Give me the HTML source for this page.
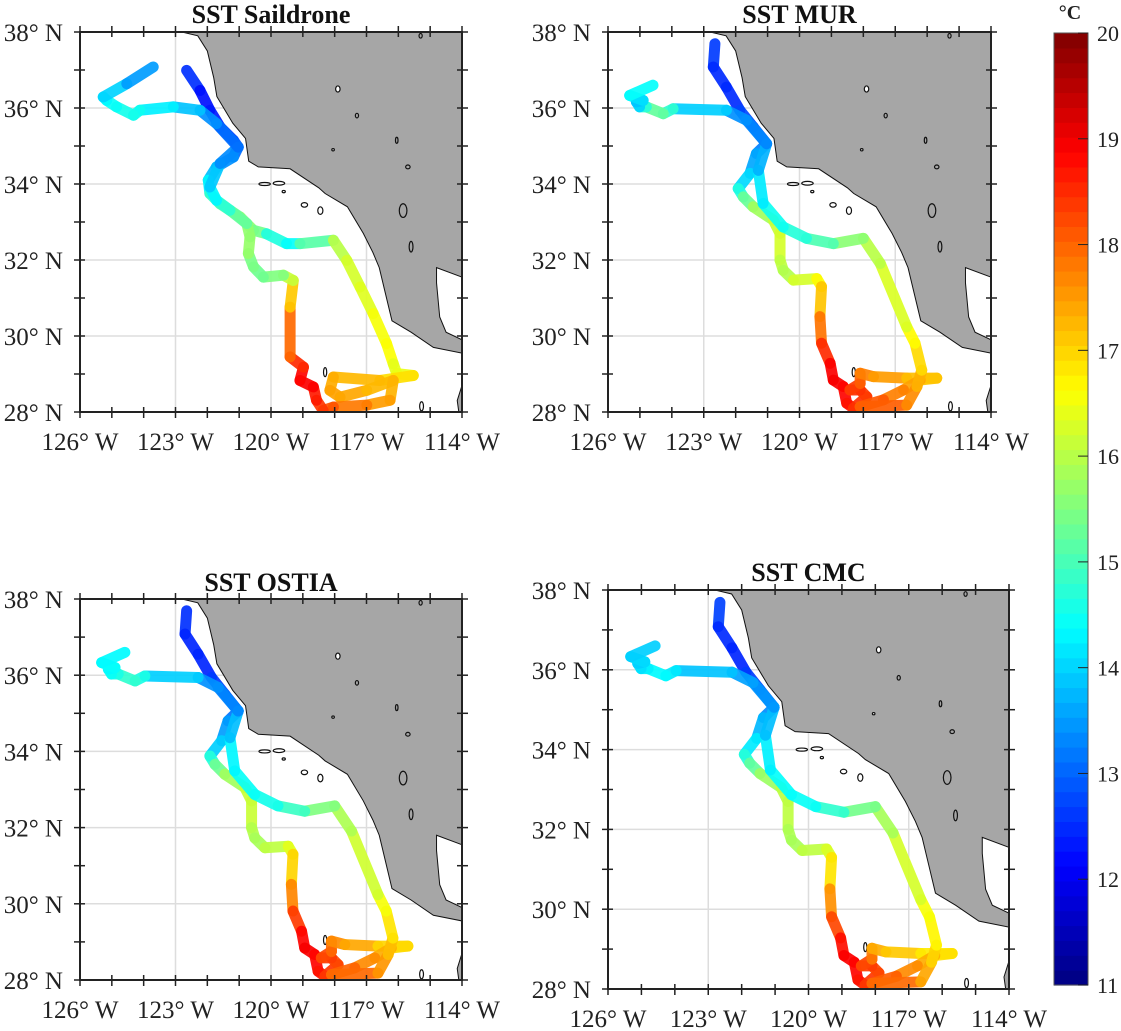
<!DOCTYPE html>
<html><head><meta charset="utf-8">
<style>
html,body{margin:0;padding:0;background:#fff;}
svg{display:block;font-family:"Liberation Serif",serif;}
</style></head>
<body>
<svg id="fig" width="1121" height="1031" viewBox="0 0 1121 1031" xmlns="http://www.w3.org/2000/svg"></svg>
<script>
// ---- data ----
const lonTicks = [-126, -123, -120, -117, -114];
const latTicks = [28, 30, 32, 34, 36, 38];
const cbTicks = [11, 12, 13, 14, 15, 16, 17, 18, 19, 20];
const panelTitles = ["SST Saildrone", "SST MUR", "SST OSTIA", "SST CMC"];

const droneLon = [-122.65,-122.23,-121.92,-121.60,-121.18,-121.03,-121.18,-121.71,-121.97,-121.92,-121.60,-120.97,-120.55,-120.14,-119.51,-119.09,-118.04,-117.62,-117.20,-116.79,-116.37,-116.16,-116.05,-115.53,-116.58,-118.04,-118.15,-117.83,-116.99,-116.16,-116.26,-116.99,-118.04,-118.36,-118.57,-118.67,-119.09,-118.98,-119.40,-119.40,-119.30,-119.61,-120.24,-120.55,-120.71,-120.66,-120.76,-121.29,-121.71,-121.92,-121.60,-121.03,-121.71,-122.23,-123.07,-124.12,-124.32,-124.85,-125.16,-125.27,-124.53,-123.70];
const droneLat = [36.99,36.46,35.94,35.50,35.15,34.97,34.71,34.45,34.10,33.75,33.48,33.13,32.78,32.69,32.43,32.43,32.52,31.99,31.29,30.59,29.80,29.27,29.01,28.96,28.83,28.92,28.57,28.39,28.57,28.83,28.31,28.18,28.13,28.04,28.31,28.66,28.83,29.18,29.45,30.76,31.46,31.60,31.55,31.82,32.17,32.61,32.96,33.31,33.57,33.92,34.54,34.97,35.59,35.94,36.03,35.94,35.81,36.03,36.20,36.29,36.64,37.08];
const droneSST = [12.8,12.3,12.2,12.5,12.8,12.9,13.2,13.6,14.0,14.6,15.1,15.4,15.8,15.0,14.3,14.5,15.8,16.2,16.3,16.4,16.7,16.5,16.3,16.6,17.2,17.3,17.4,17.5,17.3,17.2,17.4,17.6,18.0,18.3,18.5,18.8,19.0,18.7,18.3,17.6,16.6,15.6,15.4,15.3,15.6,15.8,15.5,15.0,14.5,14.1,13.7,13.0,13.2,13.6,14.1,14.4,14.6,14.5,14.4,14.3,13.7,13.3];

const modelLon = [-122.65,-122.70,-122.29,-121.87,-121.45,-121.03,-121.35,-121.55,-121.92,-121.76,-121.45,-120.82,-120.61,-120.61,-120.51,-120.19,-119.46,-119.31,-119.36,-119.31,-119.04,-118.94,-118.63,-118.52,-118.31,-117.89,-118.10,-118.42,-118.10,-118.10,-117.68,-116.64,-115.70,-116.22,-116.74,-117.37,-118.10,-116.64,-116.32,-116.17,-116.38,-116.64,-117.47,-118.00,-118.94,-119.78,-120.51,-121.14,-121.29,-121.03,-121.66,-122.29,-123.96,-124.27,-124.80,-125.01,-125.11,-124.90,-125.32,-124.59];
const modelLat = [37.69,37.08,36.55,35.94,35.50,35.06,34.80,34.28,33.88,33.66,33.40,33.05,32.70,32.00,31.73,31.47,31.51,31.30,30.51,29.81,29.28,28.84,28.67,28.23,28.10,28.40,28.58,28.58,28.75,29.02,28.93,28.89,28.89,28.84,28.58,28.32,28.14,28.18,28.67,29.10,29.81,30.24,31.91,32.57,32.43,32.57,32.87,33.49,34.36,35.06,35.68,35.94,35.98,35.85,36.03,36.03,36.16,36.20,36.33,36.60];
const murSST = [12.7,12.6,12.4,12.6,12.9,13.1,13.4,13.8,14.3,15.0,15.6,16.0,16.3,16.2,15.9,16.0,16.5,16.8,17.5,18.2,18.8,19.0,18.9,18.8,18.6,18.3,18.4,18.5,18.2,17.9,17.6,17.4,17.0,17.3,17.6,17.9,18.3,17.8,17.5,17.1,16.8,16.5,16.1,15.9,15.3,14.8,14.6,14.4,14.0,13.4,13.2,13.6,14.3,15.3,15.2,14.2,13.8,13.9,14.3,14.5];
const ostiaSST = [12.6,12.5,12.4,12.5,12.8,13.0,13.3,13.7,14.2,15.2,15.5,16.1,16.2,16.1,15.8,15.9,16.2,16.6,17.4,18.0,18.7,19.0,18.9,18.8,18.6,18.2,18.3,18.4,18.1,17.8,17.5,17.3,16.7,17.2,17.5,17.8,18.2,17.7,17.4,17.0,16.7,16.4,16.0,15.8,15.2,14.6,14.5,14.4,14.2,13.4,13.2,13.6,14.3,14.9,14.7,14.5,14.4,14.3,14.5,14.2];
const cmcSST = [12.8,12.6,12.4,12.5,12.8,13.2,13.5,14.0,14.4,15.0,15.5,16.0,16.1,16.0,15.8,15.9,16.2,16.4,17.3,17.9,18.6,18.9,18.9,18.8,18.6,18.2,18.3,18.4,18.1,17.5,17.2,17.0,16.6,17.2,17.5,17.8,18.3,17.6,17.2,16.8,16.6,16.5,16.0,15.7,15.1,14.5,14.4,14.4,14.1,13.5,13.4,13.7,14.0,14.4,14.3,14.2,14.0,13.9,14.2,13.7];

const coastLon = [-122.8,-122.3,-122.0,-121.8,-121.7,-121.2,-120.8,-120.7,-120.4,-119.4,-118.5,-118.3,-117.6,-117.1,-116.8,-116.6,-116.4,-116.2,-115.6,-114.9,-114.0,-114.0,-114.5,-114.7,-114.8,-114.8,-114.0,-114.0];
const coastLat = [38.0,37.9,37.5,36.8,36.3,35.6,35.2,34.6,34.45,34.4,33.9,33.75,33.4,32.7,32.2,31.8,31.1,30.4,30.1,29.7,29.55,29.9,30.1,30.5,31.4,31.8,31.55,38.0];
const isleLon = [-120.2,-119.75,-118.95,-118.45,-118.3,-115.27,-117.9,-117.3,-116.05,-115.7,-115.85,-115.6,-115.3,-119.6,-118.05];
const isleLat = [34.0,34.02,33.45,33.3,29.05,28.15,36.5,35.8,35.15,34.45,33.3,32.35,37.9,33.8,34.9];
const isleRx = [0.18,0.18,0.1,0.08,0.05,0.06,0.07,0.05,0.04,0.07,0.12,0.06,0.05,0.05,0.04];
const isleRy = [0.04,0.05,0.06,0.1,0.12,0.12,0.08,0.06,0.08,0.05,0.18,0.14,0.06,0.03,0.03];

// ---- layout ----
const panels = [
  {l:80, t:32, r:462, b:412, title:panelTitles[0], lon:droneLon, lat:droneLat, v:droneSST, ty:23},
  {l:608, t:32, r:991, b:412, title:panelTitles[1], lon:modelLon, lat:modelLat, v:murSST, ty:23},
  {l:80, t:599, r:462, b:980, title:panelTitles[2], lon:modelLon, lat:modelLat, v:ostiaSST, ty:591},
  {l:608, t:590, r:1009, b:989, title:panelTitles[3], lon:modelLon, lat:modelLat, v:cmcSST, ty:581}
];
const NS = "http://www.w3.org/2000/svg";
const svg = document.getElementById('fig');
function mk(tag, attrs, parent){ const e=document.createElementNS(NS,tag); for(const k in attrs) e.setAttribute(k,attrs[k]); (parent||svg).appendChild(e); return e; }
function jet(t){ const v=Math.max(0,Math.min(1,(t-11)/9)); const c=x=>Math.round(255*Math.max(0,Math.min(1,1.5-Math.abs(x)))); return `rgb(${c(4*v-3)},${c(4*v-2)},${c(4*v-1)})`; }

panels.forEach((p,pi)=>{
  const xs = lon => p.l + (lon+126)/12*(p.r-p.l);
  const ys = lat => p.t + (38-lat)/10*(p.b-p.t);
  const g = mk('g',{});
  
  
  const cid='clip'+pi;
  const cp = mk('clipPath',{id:cid},g); mk('rect',{x:p.l,y:p.t,width:p.r-p.l,height:p.b-p.t},cp);
  const inner = mk('g',{'clip-path':`url(#${cid})`},g);
  for(let lo=-123; lo<=-117; lo+=3){ const l=mk('line',{x1:xs(lo),x2:xs(lo),y1:p.t,y2:p.b,stroke:'#ddd','stroke-width':1.5},inner);   }
  for(let la=30; la<=36; la+=2){ const l=mk('line',{x1:p.l,x2:p.r,y1:ys(la),y2:ys(la),stroke:'#ddd','stroke-width':1.5},inner);   }
  const pts = coastLon.map((lo,i)=>xs(lo)+','+ys(coastLat[i])).join(' ');
  const land = mk('polygon',{points:pts,fill:'#a6a6a6',stroke:'#111','stroke-width':1},inner);
  
  
  const pen = mk('polygon',{points:[[-114,28.7],[-114.15,28.3],[-114.1,28],[-114,28]].map(q=>xs(q[0])+','+ys(q[1])).join(' '),fill:'#a6a6a6',stroke:'#111','stroke-width':1},inner);
  
  
  isleLon.forEach((lo,i)=>{
    const e=mk('ellipse',{cx:xs(lo),cy:ys(isleLat[i]),rx:isleRx[i]*31.8,ry:isleRy[i]*38,fill:lo>-117.5&&isleLat[i]>30?'#a6a6a6':'#fff',stroke:'#111','stroke-width':1.2},inner);
    
    
  });
  for(let i=0;i<p.lon.length-1;i++){
    const s=mk('line',{x1:xs(p.lon[i]),y1:ys(p.lat[i]),x2:xs(p.lon[i+1]),y2:ys(p.lat[i+1]),stroke:jet((p.v[i]+p.v[i+1])/2),'stroke-width':11,'stroke-linecap':'round','stroke-opacity':0.92},inner);
    
    
  }
  const fr=mk('rect',{x:p.l,y:p.t,width:p.r-p.l,height:p.b-p.t,fill:'none',stroke:'#222','stroke-width':2},g);
  
  
  for(let lo=-126; lo<=-114; lo++){
    mk('line',{x1:xs(lo),x2:xs(lo),y1:p.b-5,y2:p.b+6,stroke:'#222','stroke-width':1.5},g);
    mk('line',{x1:xs(lo),x2:xs(lo),y1:p.t-6,y2:p.t+5,stroke:'#222','stroke-width':1.5},g);
  }
  for(let la=28; la<=38; la++){
    mk('line',{x1:p.l-6,x2:p.l+5,y1:ys(la),y2:ys(la),stroke:'#222','stroke-width':1.5},g);
    mk('line',{x1:p.r-5,x2:p.r+6,y1:ys(la),y2:ys(la),stroke:'#222','stroke-width':1.5},g);
  }
  lonTicks.forEach(lo=>{
    const t=mk('text',{x:xs(lo),y:p.b+38,'text-anchor':'middle','font-size':25,fill:'#222'},g);
    t.textContent=Math.abs(lo)+'° W';
    
    
  });
  latTicks.forEach(la=>{
    const t=mk('text',{x:p.l-17,y:ys(la)+9,'text-anchor':'end','font-size':25,fill:'#222'},g);
    t.textContent=la+'° N';
    
    
  });
  const tt=mk('text',{x:(p.l+p.r)/2,y:p.ty,'text-anchor':'middle','font-size':26,'font-weight':'bold',fill:'#111'},g);
  tt.textContent=p.title;
  
  
});

const cb = mk('g',{});


const cbT=33, cbB=985, cbL=1054, cbR=1088;
const cy = v => cbB - (v-11)/9*(cbB-cbT);
const nLev=64;
for(let k=0;k<nLev;k++){
  const v0=11+9*k/nLev, v1=11+9*(k+1)/nLev;
  mk('rect',{x:cbL,y:cy(v1),width:cbR-cbL,height:cy(v0)-cy(v1)+0.6,fill:jet((v0+v1)/2)},cb);
}
mk('rect',{x:cbL,y:cbT,width:cbR-cbL,height:cbB-cbT,fill:'none',stroke:'#555','stroke-width':1},cb);
cbTicks.forEach(v=>{
  mk('line',{x1:cbR-10,x2:cbR,y1:cy(v),y2:cy(v),stroke:'#222','stroke-width':1},cb);
  const t=mk('text',{x:1097,y:cy(v)+8,'font-size':22,fill:'#222'},cb);
  t.textContent=v;
  
  
});
const u=mk('text',{x:1070,y:19,'text-anchor':'middle','font-size':20,'font-weight':'bold',fill:'#222'},cb);
u.textContent='°C';


</script>
</body></html>
